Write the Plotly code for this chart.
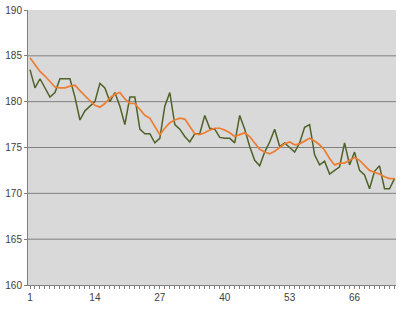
import plotly.graph_objects as go

x_vals = list(range(1, 75))
series_actual = [
    183.5, 181.5, 182.5, 181.5, 180.5, 181.0, 182.5, 182.5, 182.5, 180.5,
    178.0, 179.0, 179.5, 180.0, 182.0, 181.5, 180.0, 181.0, 179.5, 177.5,
    180.5, 180.5, 177.0, 176.5, 176.5, 175.5, 176.0, 179.5, 181.0, 177.5,
    177.0, 176.2, 175.6, 176.5, 176.5, 178.5, 177.1, 177.0, 176.1, 176.0,
    176.0, 175.5, 178.5, 177.0, 175.1, 173.6, 173.0, 174.5, 175.6, 177.0,
    175.1, 175.5, 175.0, 174.5, 175.5, 177.2, 177.5, 174.2, 173.1, 173.5,
    172.1, 172.5, 172.9, 175.5, 173.1, 174.5, 172.5, 172.0, 170.5, 172.4,
    173.0, 170.5, 170.5, 171.6,
]
series_smooth = [
    184.8, 184.0, 183.3, 182.8, 182.2, 181.6, 181.5, 181.5, 181.7, 181.8,
    181.2, 180.6, 180.1, 179.6, 179.4, 179.8, 180.4, 180.8, 181.0, 180.3,
    179.8, 179.8, 179.1, 178.5, 178.2, 177.3, 176.4, 177.1, 177.7, 178.0,
    178.2, 178.1, 177.3, 176.5, 176.4, 176.6, 176.9, 177.1, 177.1, 176.9,
    176.6, 176.2, 176.4, 176.6, 176.2, 175.5, 174.8, 174.5, 174.3, 174.6,
    175.0, 175.4, 175.6, 175.3, 175.4, 175.7, 176.0, 175.7, 175.3, 174.7,
    173.8, 173.1, 173.3, 173.3, 173.6, 173.9, 173.6, 173.1, 172.5, 172.3,
    172.1, 171.8, 171.6, 171.6,
]
x_tickvals = [1, 14, 27, 40, 53, 66]
y_tickvals = [160, 165, 170, 175, 180, 185, 190]
y_gridvals = [165, 170, 175, 180, 185]

fig = go.Figure()
fig.add_trace(go.Scatter(x=x_vals, y=series_actual, mode="lines",
                         line=dict(color="#4f6228", width=1.5), showlegend=False))
fig.add_trace(go.Scatter(x=x_vals, y=series_smooth, mode="lines",
                         line=dict(color="#ed7d31", width=1.7), showlegend=False))

# gridlines drawn as shapes so the top (190) line is omitted as in the reference
for gv in y_gridvals:
    fig.add_shape(type="line", xref="paper", yref="y", x0=0, x1=1, y0=gv, y1=gv,
                  line=dict(color="#808080", width=1), layer="below")

fig.update_layout(
    width=400, height=312,
    margin=dict(l=28, r=4, t=10, b=27),
    paper_bgcolor="white",
    plot_bgcolor="#d9d9d9",
    font=dict(family="Liberation Sans, Arial, sans-serif", size=10, color="#404040"),
)
fig.update_xaxes(
    range=[0.6, 74.3], tickvals=x_tickvals, ticktext=[str(v) for v in x_tickvals],
    showgrid=False, zeroline=False, showline=True, linecolor="#808080", linewidth=1,
    ticks="outside", ticklen=3, tickcolor="#808080",
    minor=dict(dtick=1, tick0=1, ticks="outside", ticklen=3, tickcolor="#808080", showgrid=False),
)
fig.update_yaxes(
    range=[160, 190], tickvals=y_tickvals,
    showgrid=False, zeroline=False,
    showline=True, linecolor="#808080", linewidth=1,
    ticks="outside", ticklen=3, tickcolor="#808080",
)

fig.write_html("out.html")
